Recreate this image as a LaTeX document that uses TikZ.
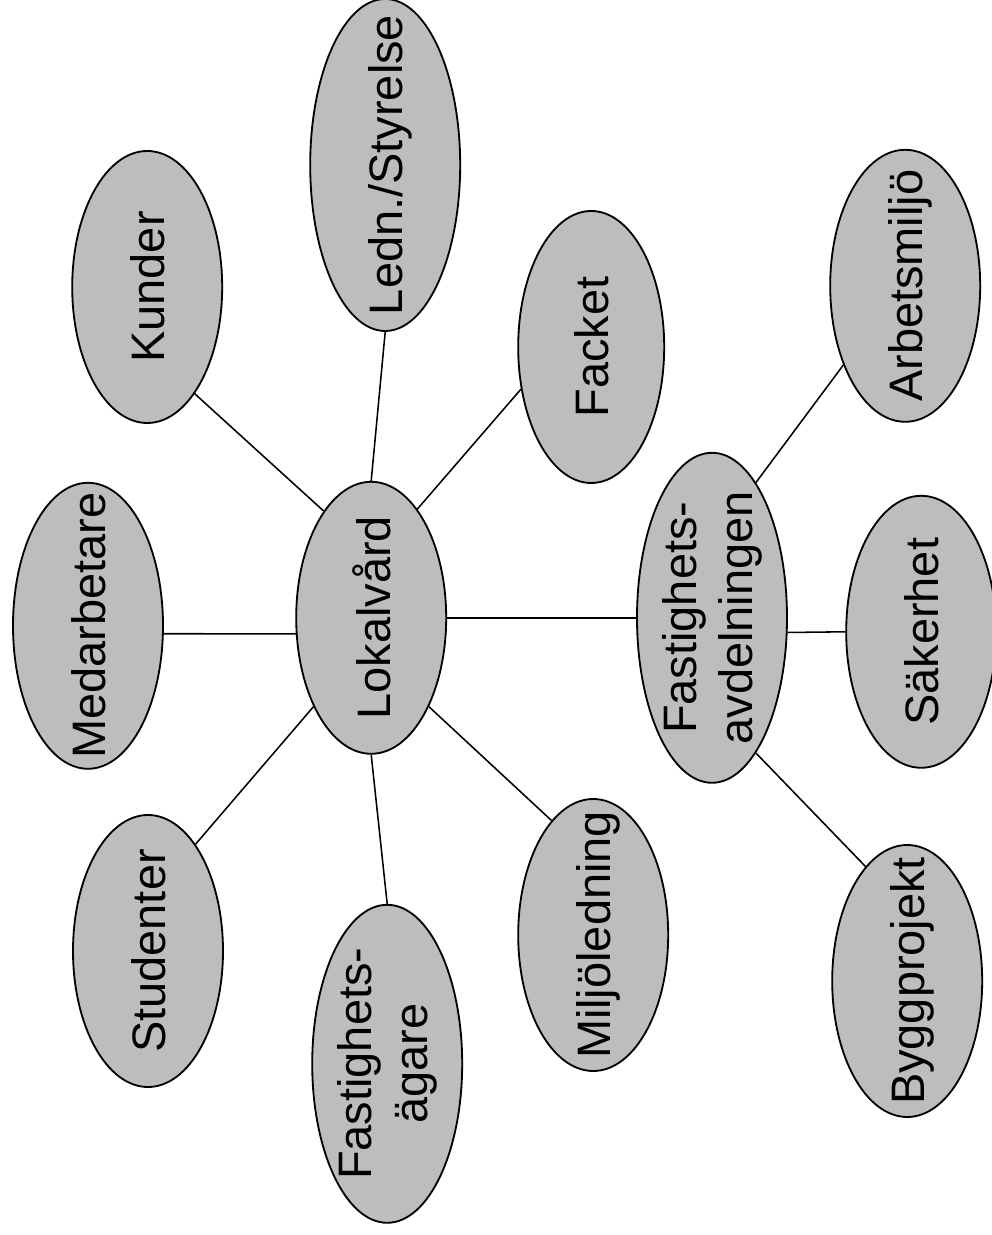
\documentclass[tikz,border=0pt]{standalone}
\usepackage{fontspec}
\setmainfont{Liberation Sans}
\usetikzlibrary{shapes.geometric}

\begin{document}
\begin{tikzpicture}[
    blob/.style={ellipse, draw, line width=1.3pt, fill=black!26, minimum width=3.75cm, minimum height=6.8cm, inner sep=0pt},
    word/.style={rotate=90, inner sep=0pt, text depth=0pt, font=\fontsize{33.4}{39.8}\selectfont},
    words/.style={rotate=90, inner sep=0pt, align=center, font=\fontsize{33.4}{39.8}\selectfont},
    link/.style={line width=1.1pt}]
  \useasboundingbox (0,0) rectangle (24.8,30.875);
  \node[blob, minimum height=8.3cm, label={[word]center:Ledn./Styrelse}] (ledn) at (9.63,26.75) {};
  \node[blob, label={[word]center:Kunder}] (kunder) at (3.68,23.7) {};
  \node[blob, minimum height=7.15cm, label={[word]center:Medarbetare}] (medarb) at (2.2,15.23) {};
  \node[blob, label={[word]center:Lokalvård}] (lokal) at (9.28,15.43) {};
  \node[blob, minimum width=3.65cm, label={[word]center:Facket}] (facket) at (14.78,22.2) {};
  \node[blob, label={[word]center:Studenter}] (student) at (3.7,7.1) {};
  \node[blob, minimum height=7.95cm, label={[words]center:Fastighets-\\ägare}] (fastagare) at (9.68,4.28) {};
  \node[blob, label={[word]center:Miljöledning}] (miljo) at (14.83,7.5) {};
  \node[blob, minimum height=8.25cm, label={[words]center:Fastighets-\\avdelningen}] (fastavd) at (17.8,15.43) {};
  \node[blob, label={[word]center:Arbetsmiljö}] (arbets) at (22.63,23.73) {};
  \node[blob, label={[word]center:Säkerhet}] (saker) at (23.03,15.08) {};
  \node[blob, label={[word]center:Byggprojekt}] (bygg) at (22.68,6.35) {};
  \draw[link] (ledn.-90) -- (lokal.90);
  \draw[link] (kunder.-66) -- (lokal.114);
  \draw[link] (facket.-149) -- (lokal.67);
  \draw[link] (medarb.-6) -- (lokal.-168);
  \draw[link] (student.66) -- (lokal.-123);
  \draw[link] (fastagare.90) -- (lokal.-90);
  \draw[link] (miljo.110) -- (lokal.-57);
  \draw[link] (lokal.0) -- (fastavd.180);
  \draw[link] (fastavd.-11) -- (saker.180);
  \draw[link] (arbets.-128) -- (fastavd.72);
  \draw[link] (bygg.110) -- (fastavd.-72);
\end{tikzpicture}
\end{document}
